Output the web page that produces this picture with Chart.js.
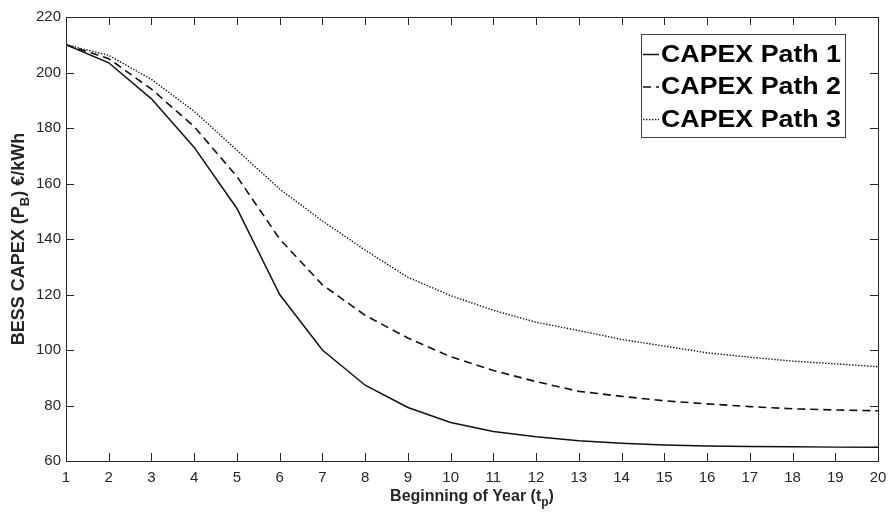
<!DOCTYPE html>
<html>
<head>
<meta charset="utf-8">
<script src="https://cdn.jsdelivr.net/npm/chart.js@4.4.1/dist/chart.umd.min.js"></script>
<style>
  html, body { margin: 0; padding: 0; background: #ffffff; }
  #wrap { width: 889px; height: 514px; }
</style>
</head>
<body>
<div id="wrap"><canvas id="c" width="889" height="514"></canvas></div>
<script>
// Beginning-of-year index and BESS CAPEX trajectories (€/kWh)
const years = [1, 2, 3, 4, 5, 6, 7, 8, 9, 10, 11, 12, 13, 14, 15, 16, 17, 18, 19, 20];
const path1 = [210, 203.5, 190.5, 173, 151, 120, 100, 87.3, 79.3, 73.9, 70.6, 68.7, 67.3, 66.4, 65.8, 65.4, 65.2, 65.1, 65, 65];
const path2 = [210, 205, 194, 180.5, 162.5, 140, 123.5, 112.5, 104.3, 97.6, 92.6, 88.6, 85.1, 83.3, 81.7, 80.6, 79.6, 78.8, 78.4, 78.1];
const path3 = [210, 206.2, 197.5, 186, 172, 158, 146.5, 136, 126.2, 119.6, 114.3, 110, 107, 103.8, 101.4, 99, 97.4, 96, 95, 94];
const seriesNames = ['CAPEX Path 1', 'CAPEX Path 2', 'CAPEX Path 3'];
const yTicks = [60, 80, 100, 120, 140, 160, 180, 200, 220];

const AXIS_COLOR = '#262626';
const LINE_COLOR = '#111111';
const FONT = '"Liberation Sans", Arial, Helvetica, sans-serif';

const lineStyles = [
  { borderDash: [], borderWidth: 1.5 },
  { borderDash: [8, 5], borderWidth: 1.6 },
  { borderDash: [1.4, 1.6], borderWidth: 1.4 }
];

const toPoints = (vals) => years.map((t, i) => ({ x: t, y: vals[i] }));

const datasets = [path1, path2, path3].map((vals, i) => ({
  label: seriesNames[i],
  data: toPoints(vals),
  borderColor: LINE_COLOR,
  backgroundColor: LINE_COLOR,
  borderWidth: lineStyles[i].borderWidth,
  borderDash: lineStyles[i].borderDash,
  pointRadius: 0,
  tension: 0,
  fill: false
}));

// Text with a subscript part, e.g. "(P" + "B" + ") €/kWh"
function drawSubText(ctx, parts, cx, cy, size) {
  const mainFont = 'bold ' + size + 'px ' + FONT;
  const subFont = 'bold ' + Math.round(size * 0.72) + 'px ' + FONT;
  let total = 0;
  parts.forEach(p => {
    ctx.font = p.sub ? subFont : mainFont;
    total += ctx.measureText(p.text).width;
  });
  let x = cx - total / 2;
  ctx.textBaseline = 'middle';
  ctx.textAlign = 'left';
  parts.forEach(p => {
    ctx.font = p.sub ? subFont : mainFont;
    ctx.fillText(p.text, x, p.sub ? cy + size * 0.38 : cy);
    x += ctx.measureText(p.text).width;
  });
}

const framePlugin = {
  id: 'frame',
  afterDraw(chart) {
    const ctx = chart.ctx;
    const { left, right, top, bottom } = chart.chartArea;
    const xs = chart.scales.x, ys = chart.scales.y;
    const tl = 8;
    ctx.save();
    ctx.strokeStyle = AXIS_COLOR;
    ctx.lineWidth = 1;
    ctx.setLineDash([]);
    // plot box
    ctx.strokeRect(Math.round(left) + 0.5, Math.round(top) + 0.5, Math.round(right - left), Math.round(bottom - top));
    // inward ticks on all four sides
    ctx.beginPath();
    years.forEach(t => {
      const px = Math.round(xs.getPixelForValue(t)) + 0.5;
      ctx.moveTo(px, bottom); ctx.lineTo(px, bottom - tl);
      ctx.moveTo(px, top); ctx.lineTo(px, top + tl);
    });
    yTicks.forEach(v => {
      const py = Math.round(ys.getPixelForValue(v)) + 0.5;
      ctx.moveTo(left, py); ctx.lineTo(left + tl, py);
      ctx.moveTo(right, py); ctx.lineTo(right - tl, py);
    });
    ctx.stroke();

    // axis titles
    ctx.fillStyle = AXIS_COLOR;
    drawSubText(ctx, [
      { text: 'Beginning of Year (t' }, { text: 'p', sub: true }, { text: ')' }
    ], (left + right) / 2, 497, 16);

    ctx.save();
    ctx.translate(19, (top + bottom) / 2);
    ctx.rotate(-Math.PI / 2);
    drawSubText(ctx, [
      { text: 'BESS CAPEX (P' }, { text: 'B', sub: true }, { text: ') €/kWh' }
    ], 0, 0, 18);
    ctx.restore();

    // legend box
    const lx = 641, ly = 34, lw = 204, lh = 103;
    ctx.fillStyle = '#ffffff';
    ctx.fillRect(lx, ly, lw, lh);
    ctx.strokeStyle = '#404040';
    ctx.strokeRect(lx + 0.5, ly + 0.5, lw, lh);
    const rows = [54.5, 87, 119.5];
    chart.data.datasets.forEach((ds, i) => {
      const y = rows[i];
      ctx.save();
      ctx.strokeStyle = ds.borderColor;
      ctx.lineWidth = ds.borderWidth;
      ctx.setLineDash(ds.borderDash || []);
      ctx.beginPath();
      ctx.moveTo(643, y); ctx.lineTo(659, y);
      ctx.stroke();
      ctx.restore();

      ctx.save();
      ctx.font = 'bold 23px ' + FONT;
      ctx.fillStyle = '#000000';
      ctx.textBaseline = 'middle';
      ctx.textAlign = 'left';
      const w = ctx.measureText(ds.label).width;
      const sx = 180 / w;
      ctx.translate(661, y + 1);
      ctx.scale(sx, 1);
      ctx.fillText(ds.label, 0, 0);
      ctx.restore();
    });
    ctx.restore();
  }
};

new Chart(document.getElementById('c'), {
  type: 'line',
  data: { datasets },
  options: {
    responsive: false,
    animation: false,
    devicePixelRatio: 1,
    layout: { padding: { top: 17, right: 11, left: 0, bottom: 0 } },
    plugins: {
      legend: { display: false },
      tooltip: { enabled: false }
    },
    scales: {
      x: {
        type: 'linear',
        min: 1,
        max: 20,
        afterBuildTicks: (s) => { s.ticks = years.map(v => ({ value: v })); },
        ticks: {
          autoSkip: false,
          maxRotation: 0,
          padding: 8,
          color: AXIS_COLOR,
          font: { family: FONT, size: 15 }
        },
        grid: { display: false, drawTicks: false },
        border: { display: false },
        afterFit: (s) => { s.height = 53; s.paddingRight = 0; s.paddingLeft = 0; }
      },
      y: {
        type: 'linear',
        min: 60,
        max: 220,
        afterBuildTicks: (s) => { s.ticks = yTicks.map(v => ({ value: v })); },
        ticks: {
          padding: 5,
          color: AXIS_COLOR,
          font: { family: FONT, size: 15 }
        },
        grid: { display: false, drawTicks: false },
        border: { display: false },
        afterFit: (s) => { s.width = 66; s.paddingTop = 0; s.paddingBottom = 0; }
      }
    }
  },
  plugins: [framePlugin]
});
</script>
</body>
</html>
